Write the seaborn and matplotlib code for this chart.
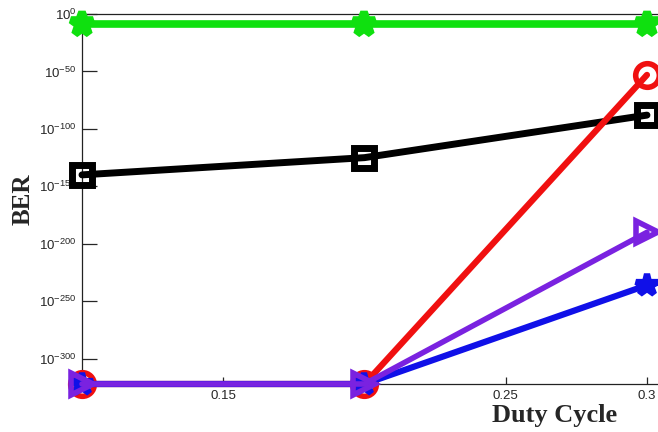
import numpy as np
import pandas as pd
import matplotlib
matplotlib.use("Agg")
import matplotlib.pyplot as plt
import seaborn as sns

# Data: duty cycle and log10(BER) exponents
duty_cycle = [0.1, 0.2, 0.3]
ber_exp_green = [-9, -9, -9]
ber_exp_black = [-140, -125, -88]
ber_exp_red = [-322, -322, -53]
ber_exp_blue = [-322, -322, -236]
ber_exp_purple = [-322, -322, -190]

x_ticks = [0.1, 0.15, 0.2, 0.25, 0.3]
x_tick_labels = ["", "0.15", "", "0.25", "0.3"]
y_ticks = [0, -50, -100, -150, -200, -250, -300]
y_tick_labels = [r"$10^{%d}$" % v for v in y_ticks]

sns.set_style("white")
plt.rcParams["font.family"] = ["Liberation Sans", "DejaVu Sans"]
plt.rcParams["mathtext.fontset"] = "custom"
plt.rcParams["mathtext.rm"] = "Liberation Sans"
plt.rcParams["mathtext.it"] = "Liberation Sans"

W, H = 658, 432
fig = plt.figure(figsize=(W / 100, H / 100), dpi=100)
ax_l, ax_r, ax_t, ax_b = 82, 671, 14, 384
ax = fig.add_axes([ax_l / W, 1 - ax_b / H, (ax_r - ax_l) / W, (ax_b - ax_t) / H])

x_right = 0.3 + (ax_r - 647) / 2820.0
ax.set_xlim(0.1, x_right)
ax.set_ylim(-322, 0)

series = [
    (ber_exp_green, "#0fe00f", "*", 17, 5.5, 5.5, True, 3),
    (ber_exp_black, "#000000", "s", 15, 5.0, 5.0, False, 4),
    (ber_exp_red, "#f01010", "o", 17, 4.0, 4.5, False, 5),
    (ber_exp_blue, "#1010e8", "*", 16, 4.5, 4.5, True, 6),
    (ber_exp_purple, "#7a22e0", ">", 16, 4.0, 4.0, False, 7),
]
for vals, col, mk, ms, mew, lw, filled, z in series:
    df = pd.DataFrame({"duty": duty_cycle, "ber": vals})
    sns.lineplot(data=df, x="duty", y="ber", ax=ax, color=col, marker=mk,
                 markersize=ms, markeredgewidth=mew, linewidth=lw,
                 markerfacecolor=col if filled else "none",
                 markeredgecolor=col, clip_on=False, zorder=z)

ax.set_xticks(x_ticks)
ax.set_xticklabels(x_tick_labels, fontsize=9.5)
ax.set_yticks(y_ticks)
ax.set_yticklabels(y_tick_labels, fontsize=9.5)
ax.tick_params(axis="y", direction="in", length=11, width=0.9, pad=4, left=True)
ax.tick_params(axis="x", direction="in", length=5, width=0.9, pad=4, bottom=True)

for side in ["left", "top", "bottom"]:
    ax.spines[side].set_color("#222222")
    ax.spines[side].set_linewidth(0.9)
ax.spines["right"].set_visible(False)

ax.set_xlabel("Duty Cycle", fontsize=19, fontweight="bold",
              family=["Liberation Serif", "DejaVu Serif"])
ax.set_ylabel("BER", fontsize=18, fontweight="bold",
              family=["Liberation Serif", "DejaVu Serif"])
ax.xaxis.set_label_coords((555 - ax_l) / (ax_r - ax_l), -(404 - ax_b) / (ax_b - ax_t))
ax.yaxis.set_label_coords((35 - ax_l) / (ax_r - ax_l), 0.5)

fig.savefig("out.png", dpi=100)
